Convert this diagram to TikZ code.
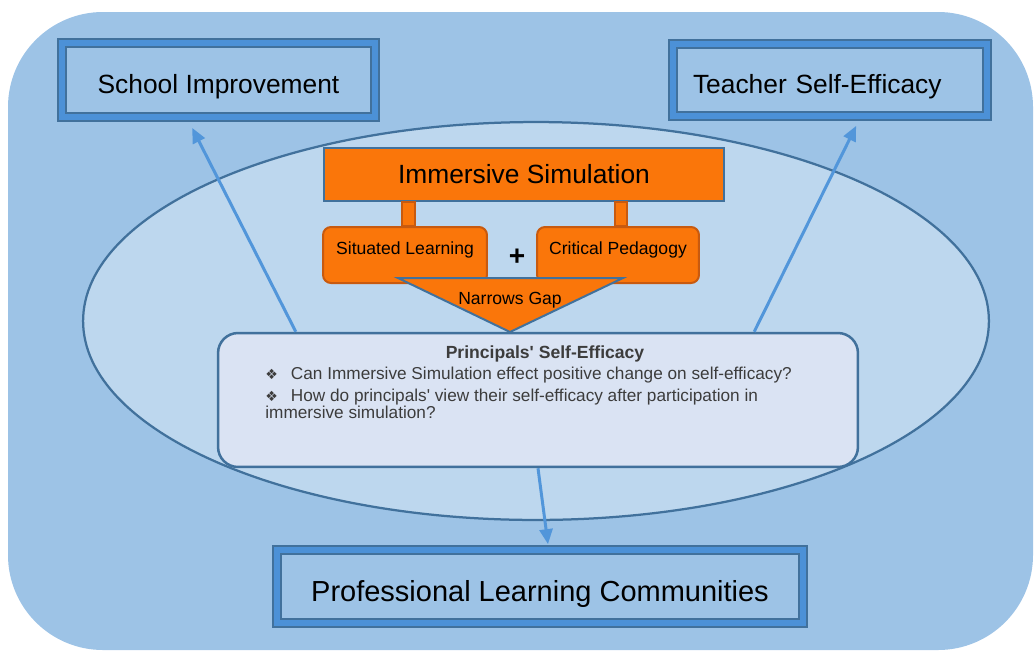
\documentclass[tikz,border=0pt]{standalone}
\usepackage{fontspec}
\setmainfont{Liberation Sans}
\newfontfamily\symfont{DejaVu Sans}
\usetikzlibrary{arrows.meta,positioning,calc}

\definecolor{bgblue}{RGB}{157,195,230}
\definecolor{ellblue}{RGB}{189,215,238}
\definecolor{lineblue}{RGB}{65,113,156}
\definecolor{bandblue}{RGB}{76,145,215}
\definecolor{arrowblue}{RGB}{82,150,218}
\definecolor{simorange}{RGB}{250,118,10}
\definecolor{edgeorange}{RGB}{200,90,15}
\definecolor{princfill}{RGB}{218,227,243}
\definecolor{princtext}{RGB}{60,60,60}

\newcommand{\bul}{{\symfont\fontsize{8}{8}\selectfont ❖}}

\begin{document}
\begin{tikzpicture}[
    x=0.02cm, y=-0.02cm,
    outerbox/.style={rectangle, draw=lineblue, line width=0.035cm, double=bandblue, double distance=0.13cm, fill=bgblue, inner ysep=0pt},
    simbox/.style={rectangle, draw=lineblue, line width=0.04cm, fill=simorange, minimum width=8cm, minimum height=1.06cm, font=\fontsize{15}{18}\selectfont},
    subbox/.style={rectangle, rounded corners=0.16cm, draw=edgeorange, line width=0.04cm, fill=simorange, minimum height=1.12cm, inner ysep=0pt, text height=0.55cm, text depth=0.57cm, font=\fontsize{10}{12}\selectfont},
    stub/.style={draw=edgeorange, line width=0.03cm, fill=simorange},
    princbox/.style={rectangle, rounded corners=0.4cm, draw=lineblue, line width=0.05cm, fill=princfill, minimum width=12.8cm, minimum height=2.68cm},
    arrow/.style={-{Triangle[length=0.3cm,width=0.26cm]}, line width=0.06cm, arrowblue}
]
\useasboundingbox (0,0) rectangle (1034,653);

% Background
\fill[bgblue, rounded corners=1.9cm] (8,12) rectangle (1033,650);
\draw[lineblue, line width=0.045cm, fill=ellblue] (536,321) ellipse [x radius=9.06cm, y radius=3.98cm];

% Outcomes
\node[outerbox, minimum width=6.26cm, minimum height=1.48cm, text height=1.0cm, text depth=0.48cm, font=\fontsize{15}{18}\selectfont] (school) at (218.5,80) {School Improvement};
\node[outerbox, inner xsep=0.4cm, text width=5.48cm, align=left, minimum height=1.44cm, text height=0.98cm, text depth=0.46cm, font=\fontsize{15}{18}\selectfont] (teacher) at (830,80) {Teacher Self-Efficacy};
\node[outerbox, minimum width=10.52cm, minimum height=1.46cm, text height=1.03cm, text depth=0.43cm, font=\fontsize{16.5}{20}\selectfont] (plc) at (540,586.5) {Professional Learning Communities};

% Simulation
\node[simbox] (imm) at (524,174.5) {Immersive Simulation};
\node[subbox, minimum width=3.28cm] (sit) at (405,255) {Situated Learning};
\node[subbox, minimum width=3.24cm] (crit) at (618,255) {Critical Pedagogy};
\draw[stub] ($(imm.south west)+(79,0)$) rectangle ($(sit.north west)+(93,0)$);
\draw[stub] ($(imm.south west)+(292,0)$) rectangle ($(crit.north west)+(91,0)$);
\node[font=\fontsize{16}{16}\selectfont\bfseries] (plus) at (517,257) {+};
\draw[lineblue, line width=0.04cm, fill=simorange] (398,278) -- (623,278) -- (510,332) -- cycle;
\node[font=\fontsize{10}{12}\selectfont] (gap) at (510,300) {Narrows Gap};

% Principals
\node[princbox] (princ) at (538,400) {};
\node[font=\fontsize{10}{12}\selectfont\bfseries, text=princtext] (princtitle) at (545,354) {Principals\textquotesingle\ Self-Efficacy};
\node[anchor=north west, align=left, inner sep=0pt, text=princtext, font=\fontsize{9.8}{9.5}\selectfont] (princlist) at (265,367) {\bul\hspace{0.26cm}Can Immersive Simulation effect positive change on self-efficacy?\\[3pt]
\bul\hspace{0.26cm}How do principals\textquotesingle\ view their self-efficacy after participation in\\
immersive simulation?};

% Arrows
\draw[arrow] ($(princ.north west)+(79,0)$) -- ($(school.south west)+(131,10)$);
\draw[arrow] ($(princ.north east)+(-105,0)$) -- ($(teacher.south west)+(184,9)$);
\draw[arrow] (princ.south) -- ($(plc.north)+(8,-5)$);

\end{tikzpicture}
\end{document}
